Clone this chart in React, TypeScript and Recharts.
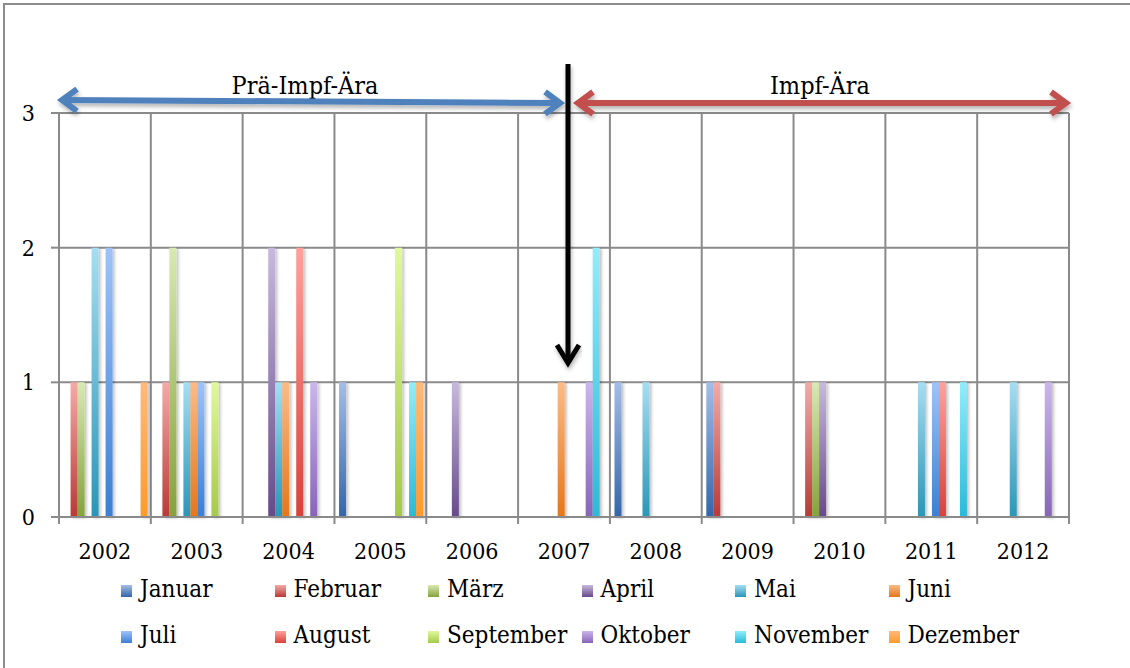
import { BarChart, Bar, XAxis, YAxis, CartesianGrid } from 'recharts'

const YEARS = ['2002', '2003', '2004', '2005', '2006', '2007', '2008', '2009', '2010', '2011', '2012']

const MONTHS = ['Januar', 'Februar', 'März', 'April', 'Mai', 'Juni', 'Juli', 'August', 'September', 'Oktober', 'November', 'Dezember']

// cases per month, one value per year 2002..2012
const januar = [0, 0, 0, 1, 0, 0, 1, 1, 0, 0, 0]
const februar = [1, 1, 0, 0, 0, 0, 0, 1, 1, 0, 0]
const maerz = [1, 2, 0, 0, 0, 0, 0, 0, 1, 0, 0]
const april = [0, 0, 2, 0, 1, 0, 0, 0, 1, 0, 0]
const mai = [2, 1, 1, 0, 0, 0, 1, 0, 0, 1, 1]
const juni = [0, 1, 1, 0, 0, 1, 0, 0, 0, 0, 0]
const juli = [2, 1, 0, 0, 0, 0, 0, 0, 0, 1, 0]
const august = [0, 0, 2, 0, 0, 0, 0, 0, 0, 1, 0]
const september = [0, 1, 0, 2, 0, 0, 0, 0, 0, 0, 0]
const oktober = [0, 0, 1, 0, 0, 1, 0, 0, 0, 0, 1]
const november = [0, 0, 0, 1, 0, 2, 0, 0, 0, 1, 0]
const dezember = [1, 0, 0, 1, 0, 0, 0, 0, 0, 0, 0]

const SERIES = [januar, februar, maerz, april, mai, juni, juli, august, september, oktober, november, dezember]

const Y_TICKS = [0, 1, 2, 3]

const TOP = ['#a3bde6', '#f4aaa7', '#d8e9b2', '#c7b9dd', '#a6ddf1', '#fbbb86', '#9ec3f8', '#ffa19c', '#dff99b', '#cbb6ec', '#92ecfb', '#ffb97a']
const BOTTOM = ['#3466a8', '#b83a36', '#85a23c', '#674a8a', '#2a96b6', '#e4771b', '#3b7fd4', '#d8413a', '#a5c94a', '#8864b8', '#29bad8', '#ff9a2a']

const FONT = '"DejaVu Serif Condensed", "DejaVu Serif", serif'
const GRID = '#8a8a8a'

const W = 1130
const H = 668
const PLOT_LEFT = 59
const PLOT_RIGHT = 1069
const PLOT_TOP = 113
const PLOT_BOTTOM = 517
const BAND = (PLOT_RIGHT - PLOT_LEFT) / YEARS.length

const data = YEARS.map((year, i) => {
  const row: Record<string, string | number> = { year }
  MONTHS.forEach((m, k) => {
    row[m] = SERIES[k][i]
  })
  return row
})

function YearTick(props: any) {
  const { x, y, payload, index } = props
  const left = x - BAND / 2
  return (
    <g>
      <line x1={left} y1={y} x2={left} y2={y + 7} stroke={GRID} strokeWidth={2} />
      {index === YEARS.length - 1 && (
        <line x1={x + BAND / 2} y1={y} x2={x + BAND / 2} y2={y + 7} stroke={GRID} strokeWidth={2} />
      )}
      <text x={x} y={y + 42} textAnchor="middle" fontFamily={FONT} fontSize={23} fill="#000">
        {payload.value}
      </text>
    </g>
  )
}

function Arrow({ x1, y1, x2, y2, color, both }: any) {
  const ang = Math.atan2(y2 - y1, x2 - x1)
  const head = (tx: number, ty: number, a: number) => {
    const back = 15
    const half = 11
    const bx = tx - Math.cos(a) * back
    const by = ty - Math.sin(a) * back
    const nx = -Math.sin(a) * half
    const ny = Math.cos(a) * half
    return `${bx + nx},${by + ny} ${tx},${ty} ${bx - nx},${by - ny}`
  }
  return (
    <g filter="url(#ashadow)">
      <line x1={x1} y1={y1} x2={x2} y2={y2} stroke={color} strokeWidth={6} />
      <polyline points={head(x2, y2, ang)} fill="none" stroke={color} strokeWidth={6} strokeLinejoin="miter" />
      {both && (
        <polyline points={head(x1, y1, ang + Math.PI)} fill="none" stroke={color} strokeWidth={6} strokeLinejoin="miter" />
      )}
    </g>
  )
}

export default function App() {
  return (
    <div style={{ position: 'absolute', left: 0, top: 0, width: W, height: H, overflow: 'hidden', background: '#fff' }}>
      <div
        style={{
          position: 'absolute',
          left: 3,
          top: 3,
          width: W,
          height: H + 20,
          borderLeft: '2px solid #8c8c8c',
          borderTop: '2px solid #8c8c8c',
        }}
      />
      <BarChart
        width={W}
        height={H}
        data={data}
        margin={{ top: PLOT_TOP, right: W - PLOT_RIGHT, left: 0, bottom: 0 }}
        barCategoryGap="5%"
        barGap={0}
      >
        <defs>
          {MONTHS.map((m, k) => (
            <linearGradient key={m} id={`g${k}`} x1="0" y1="0" x2="0" y2="1">
              <stop offset="0%" stopColor={TOP[k]} />
              <stop offset="100%" stopColor={BOTTOM[k]} />
            </linearGradient>
          ))}
          <filter id="bshadow" x="-50%" y="-5%" width="250%" height="115%">
            <feDropShadow dx="2" dy="1" stdDeviation="1.5" floodColor="#000" floodOpacity="0.25" />
          </filter>
        </defs>
        <CartesianGrid
          stroke={GRID}
          strokeWidth={2}
          verticalCoordinatesGenerator={() => YEARS.map((_, i) => PLOT_LEFT + i * BAND).concat([PLOT_RIGHT])}
        />
        <XAxis
          dataKey="year"
          height={H - PLOT_BOTTOM}
          tickSize={0}
          tickMargin={0}
          axisLine={{ stroke: GRID, strokeWidth: 2 }}
          tickLine={false}
          tick={<YearTick />}
          interval={0}
        />
        <YAxis
          width={PLOT_LEFT}
          domain={[0, 3]}
          ticks={Y_TICKS}
          interval={0}
          tickSize={8}
          tickMargin={16}
          axisLine={{ stroke: GRID, strokeWidth: 2 }}
          tickLine={{ stroke: GRID, strokeWidth: 2 }}
          tick={{ fontFamily: FONT, fontSize: 23, fill: '#000' }}
        />
        {MONTHS.map((m, k) => (
          <Bar key={m} dataKey={m} fill={`url(#g${k})`} filter="url(#bshadow)" isAnimationActive={false} />
        ))}
      </BarChart>

      <svg width={W} height={H} style={{ position: 'absolute', left: 0, top: 0, pointerEvents: 'none' }}>
        <defs>
          <filter id="ashadow" x="-10%" y="-50%" width="120%" height="200%">
            <feDropShadow dx="1" dy="3" stdDeviation="2" floodColor="#000" floodOpacity="0.3" />
          </filter>
        </defs>
        <text x={305} y={94} textAnchor="middle" fontFamily={FONT} fontSize={25} fill="#000">
          Prä-Impf-Ära
        </text>
        <text x={820} y={94} textAnchor="middle" fontFamily={FONT} fontSize={25} fill="#000">
          Impf-Ära
        </text>
        <Arrow x1={62} y1={100} x2={560} y2={103} color="#4f81bd" both />
        <Arrow x1={578} y1={103} x2={1066} y2={103} color="#c0504d" both />
        <g filter="url(#ashadow)">
          <line x1={568} y1={64} x2={568} y2={360} stroke="#000" strokeWidth={5} />
          <polyline points="557,345 568,363 579,345" fill="none" stroke="#000" strokeWidth={5} />
        </g>
      </svg>

      {MONTHS.map((m, k) => (
        <div
          key={m}
          style={{
            position: 'absolute',
            left: 121 + (k % 6) * 153.5,
            top: (k < 6 ? 589 : 635) - 15,
            height: 30,
            display: 'flex',
            alignItems: 'center',
            fontFamily: FONT,
            fontSize: 24,
            color: '#000',
            whiteSpace: 'nowrap',
          }}
        >
          <span
            style={{
              display: 'inline-block',
              width: 11,
              height: 12,
              marginRight: 8,
              marginTop: 4,
              background: `linear-gradient(${TOP[k]}, ${BOTTOM[k]})`,
            }}
          />
          {m}
        </div>
      ))}
    </div>
  )
}
